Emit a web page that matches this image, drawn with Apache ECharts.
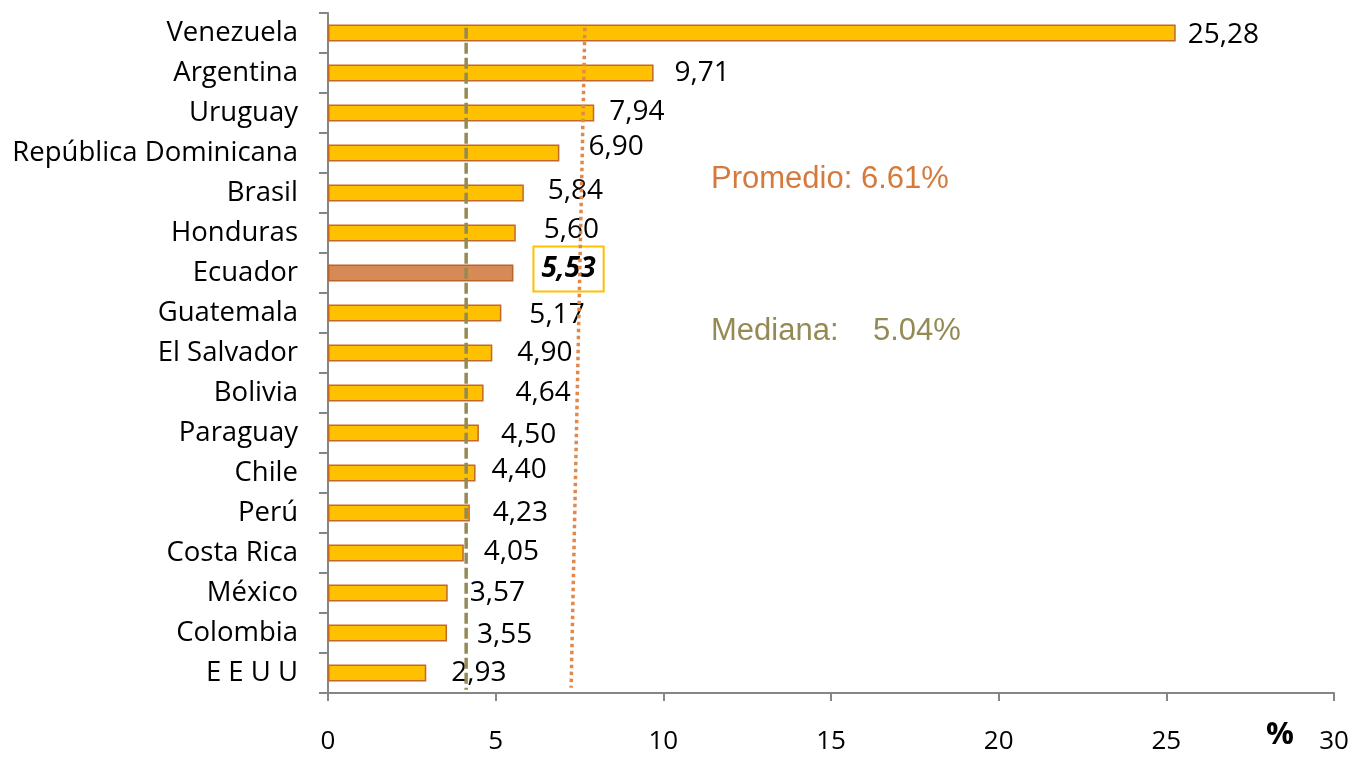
<!DOCTYPE html>
<html>
<head>
<meta charset="utf-8">
<script src="https://cdn.jsdelivr.net/npm/echarts@6/dist/echarts.min.js"></script>
<style>
    html, body { margin: 0; padding: 0; background: #fff; }
    #main { width: 1352px; height: 758px; }
</style>
</head>
<body>
<div id="main"></div>
<script type="text/javascript">
// datos
var paises = ['Venezuela', 'Argentina', 'Uruguay', 'República Dominicana', 'Brasil', 'Honduras', 'Ecuador',
    'Guatemala', 'El Salvador', 'Bolivia', 'Paraguay', 'Chile', 'Perú', 'Costa Rica', 'México', 'Colombia', 'E E U U'];
var valores = [25.28, 9.71, 7.94, 6.90, 5.84, 5.60, 5.53, 5.17, 4.90, 4.64, 4.50, 4.40, 4.23, 4.05, 3.57, 3.55, 2.93];
var ticksX = [0, 5, 10, 15, 20, 25, 30];
// lineas dibujadas a mano (valor x, posicion vertical 0..17)
var lineaMediana = [[4.12, 16.63], [4.12, 0.08]];
var lineaPromedio = [[7.66, 16.63], [7.25, 0.13]];

// separacion de las etiquetas (como en el original)
var sepEtiqueta = [12, 21, 15, 29, 24, 28, 21, 28, 25, 32, 22, 16, 23, 20, 22, 30, 25];
var dyEtiqueta = [2, 0, -1, -6, -2, -3, 0, 2, 0, 0, 2, -3, 0, -1, 0, 2, 0];

var fuente = '"Open Sans", "Noto Sans", sans-serif';

var barras = valores.map(function (v, i) {
    var item = {
        value: v,
        label: {
            distance: sepEtiqueta[i],
            offset: [0, dyEtiqueta[i]]
        }
    };
    if (paises[i] === 'Ecuador') {
        item.itemStyle = { color: '#D68A55', borderColor: '#B8652A' };
        item.label = {
            distance: 21,
            offset: [0, -4],
            fontWeight: 'bold',
            fontStyle: 'italic',
            backgroundColor: '#fff',
            borderColor: '#FFC000',
            borderWidth: 2,
            padding: [8, 7, 7, 7]
        };
    }
    return item;
});

var myChart = echarts.init(document.getElementById('main'));
var option = {
    animation: false,
    textStyle: { fontFamily: fuente },
    grid: { left: 328, right: 18, top: 13, bottom: 65 },
    xAxis: {
        type: 'value',
        min: 0,
        max: 30,
        interval: 5,
        axisLine: { show: true, lineStyle: { color: '#868686', width: 2 } },
        axisTick: { show: true, length: 8, lineStyle: { color: '#868686', width: 2 } },
        splitLine: { show: false },
        axisLabel: {
            color: '#000',
            fontSize: 26,
            margin: 36,
            fontFamily: fuente,
            formatter: function (v) { return ticksX.indexOf(v) >= 0 ? String(v) : ''; }
        }
    },
    yAxis: [{
        type: 'category',
        inverse: true,
        data: paises,
        axisLine: { show: true, lineStyle: { color: '#868686', width: 2 } },
        axisTick: { show: true, length: 9, lineStyle: { color: '#868686', width: 2 } },
        axisLabel: { color: '#000', fontSize: 27.5, margin: 30, fontFamily: fuente, padding: [5, 0, 0, 0] }
    }, {
        type: 'value',
        min: 0,
        max: 17,
        show: false
    }],
    series: [{
        type: 'bar',
        barWidth: 17,
        data: barras,
        itemStyle: { color: '#FFC000', borderColor: '#C0692A', borderWidth: 1.5 },
        label: {
            show: true,
            position: 'right',
            color: '#000',
            fontSize: 28,
            fontFamily: fuente,
            formatter: function (p) { return p.value.toFixed(2).replace('.', ','); }
        }
    }, {
        type: 'line',
        yAxisIndex: 1,
        data: lineaMediana,
        symbol: 'none',
        z: 10,
        lineStyle: { color: '#948A54', width: 3.5, type: [11, 4] }
    }, {
        type: 'line',
        yAxisIndex: 1,
        data: lineaPromedio,
        symbol: 'none',
        z: 10,
        lineStyle: { color: '#E0894B', width: 3.5, type: [3.5, 3.5] }
    }],
    graphic: [{
        type: 'text',
        left: 711,
        top: 164,
        style: { text: 'Promedio: 6.61%', fill: '#D57A3C', font: '31px "Liberation Sans", Arial, sans-serif' }
    }, {
        type: 'text',
        left: 711,
        top: 316,
        style: { text: 'Mediana:    5.04%', fill: '#948A54', font: '31px "Liberation Sans", Arial, sans-serif' }
    }, {
        type: 'text',
        left: 1266,
        top: 720,
        style: { text: '%', fill: '#000', font: 'bold 31px "Open Sans", sans-serif' }
    }]
};
myChart.setOption(option);
</script>
</body>
</html>
